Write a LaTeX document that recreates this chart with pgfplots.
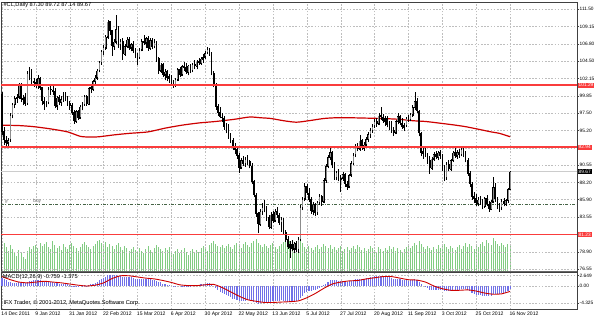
\documentclass[border=0pt]{standalone}
\usepackage{fontspec}
\setmainfont{Liberation Sans}
\usepackage{pgfplots}
\usepackage{pgfplotstable}
\pgfplotsset{compat=1.18}

\definecolor{volgreen}{RGB}{130,204,130}
\definecolor{macdblue}{RGB}{112,112,232}
\definecolor{maRed}{RGB}{205,0,0}
\definecolor{levRed}{RGB}{250,60,60}
\definecolor{gridgray}{RGB}{190,190,190}
\definecolor{ddgreen}{RGB}{70,100,70}
\newcommand{\pricefont}{\fontsize{4.8}{5}\selectfont}
\newcommand{\datefont}{\fontsize{5.1}{6}\selectfont}
\newcommand{\infofont}{\fontsize{5.7}{6.5}\selectfont}
\pgfplotsset{nomark/.style={only marks, mark=*, mark size=0pt, mark options={draw=none, fill=none}}}

\pgfplotstableread{
i o h l c v m
0 100.0 100.3 94.6 95.0 33 2.1
1 95.0 95.6 93.3 93.9 28 1.8
2 93.9 94.5 92.8 93.5 24 1.4
3 93.5 94.2 92.9 93.9 20 1.0
4 93.9 97.6 93.7 97.2 26 0.9
5 97.2 98.9 96.8 98.7 22 0.8
6 98.7 99.8 98.2 99.5 18 0.8
7 99.5 100.1 98.9 99.7 15 0.8
8 99.7 101.5 99.4 101.3 21 0.9
9 101.3 101.6 99.0 99.4 19 0.8
10 99.4 100.0 98.6 99.6 14 0.8
11 99.6 100.2 98.5 98.8 12 0.7
12 98.8 103.2 98.7 102.9 20 1.0
13 102.9 103.7 101.9 103.2 24 1.3
14 103.2 103.4 101.3 101.8 22 1.3
15 101.8 102.3 101.0 101.6 25 1.4
16 101.6 102.1 100.9 101.3 26 1.4
17 101.3 102.6 100.8 102.2 23 1.5
18 102.2 102.4 100.6 100.9 28 1.4
19 100.9 101.0 98.6 99.1 25 1.2
20 99.1 99.7 98.0 98.7 27 1.0
21 98.7 99.2 98.3 98.9 29 0.9
22 98.9 101.0 98.7 100.7 24 1.0
23 100.7 101.4 100.0 100.6 22 1.0
24 100.6 101.3 99.9 100.4 30 0.9
25 100.4 100.9 98.2 98.5 26 0.7
26 98.5 99.8 98.0 99.6 23 0.7
27 99.6 100.0 98.6 99.0 25 0.6
28 99.0 99.8 98.5 99.4 21 0.6
29 99.4 100.3 99.0 99.7 27 0.6
30 99.7 100.4 99.1 99.6 24 0.5
31 99.6 99.8 98.5 98.8 22 0.4
32 98.8 99.2 98.0 98.5 26 0.3
33 98.5 98.9 97.3 97.6 28 0.1
34 97.6 97.9 96.1 96.4 25 -0.1
35 96.4 98.0 96.2 97.8 23 -0.1
36 97.8 98.0 96.6 96.9 20 -0.1
37 96.9 98.6 96.8 98.4 24 0.0
38 98.4 99.0 97.9 98.7 27 0.1
39 98.7 100.0 98.5 99.8 29 0.2
40 99.8 100.0 98.5 98.7 26 0.1
41 98.7 101.0 98.6 100.9 24 0.3
42 100.9 101.2 100.2 100.7 22 0.4
43 100.7 102.0 100.5 101.8 25 0.6
44 101.8 102.6 101.4 102.3 27 0.8
45 102.3 103.4 102.0 103.2 30 1.1
46 103.2 104.5 103.0 104.3 31 1.4
47 104.3 106.0 104.0 105.8 28 1.8
48 105.8 106.6 105.3 106.3 26 2.1
49 106.3 108.0 106.0 107.8 29 2.4
50 107.8 110.0 107.5 109.8 24 2.8
51 109.8 109.9 108.0 108.6 27 2.9
52 108.6 108.7 105.2 106.5 25 2.7
53 106.5 107.5 106.0 107.1 22 2.7
54 107.1 110.7 106.8 108.8 26 2.8
55 108.8 109.2 106.3 106.7 28 2.6
56 106.7 107.5 106.0 107.2 24 2.6
57 107.2 107.6 104.7 105.4 21 2.4
58 105.4 106.8 105.2 106.5 25 2.4
59 106.5 107.8 106.2 107.4 23 2.4
60 107.4 107.7 106.0 106.3 20 2.3
61 106.3 107.0 105.8 106.8 22 2.2
62 106.8 107.2 105.6 105.9 24 2.1
63 105.9 106.3 104.9 105.2 21 1.9
64 105.2 105.6 104.0 105.0 19 1.8
65 105.0 106.2 104.8 106.0 23 1.8
66 106.0 107.5 105.8 107.2 20 1.9
67 107.2 108.0 106.7 107.0 18 1.8
68 107.0 107.8 106.3 107.6 22 1.8
69 107.6 107.9 105.9 106.2 25 1.7
70 106.2 107.6 106.0 107.3 21 1.7
71 107.3 107.6 106.1 106.4 19 1.6
72 106.4 107.5 106.2 107.0 23 1.6
73 107.0 107.2 104.4 104.8 26 1.3
74 104.8 105.0 102.8 103.2 24 1.0
75 103.2 104.3 102.9 104.0 22 0.9
76 104.0 104.2 102.4 102.7 20 0.6
77 102.7 103.4 101.9 103.1 23 0.5
78 103.1 103.3 101.8 102.2 21 0.3
79 102.2 102.8 101.6 102.5 24 0.2
80 102.5 102.6 101.2 101.5 19 0.0
81 101.5 101.9 100.9 101.3 17 -0.1
82 101.3 102.3 101.0 102.0 20 -0.1
83 102.0 103.6 101.8 103.4 22 0.0
84 103.4 103.7 102.4 102.7 18 0.0
85 102.7 104.0 102.5 103.8 21 0.1
86 103.8 104.4 103.2 103.6 23 0.1
87 103.6 104.2 102.8 103.0 19 0.1
88 103.0 104.0 102.6 103.9 16 0.1
89 103.9 104.1 102.9 103.2 20 0.1
90 103.2 104.3 103.0 104.1 22 0.2
91 104.1 104.6 103.5 103.8 18 0.2
92 103.8 104.6 103.4 104.4 21 0.3
93 104.4 104.9 104.0 104.2 19 0.3
94 104.2 105.0 104.0 104.8 23 0.4
95 104.8 105.4 104.3 105.1 25 0.5
96 105.1 105.9 104.8 105.6 22 0.6
97 105.6 106.4 105.4 106.1 20 0.7
98 106.1 106.3 105.2 105.5 26 0.7
99 105.5 105.7 102.6 102.9 28 0.4
100 102.9 103.2 101.0 101.4 30 0.0
101 101.4 101.6 98.0 98.4 27 -0.6
102 98.4 98.8 97.2 97.6 25 -1.1
103 97.6 98.3 96.8 97.0 24 -1.5
104 97.0 97.6 96.3 96.8 26 -1.8
105 96.8 97.1 95.3 95.6 23 -2.1
106 95.6 96.2 94.8 95.8 25 -2.3
107 95.8 96.0 94.1 94.4 27 -2.6
108 94.4 94.9 93.5 93.8 24 -2.9
109 93.8 94.2 92.6 92.9 22 -3.2
110 92.9 93.5 92.0 92.6 26 -3.4
111 92.6 93.0 91.4 91.8 28 -3.6
112 91.8 92.2 89.5 90.2 25 -3.8
113 90.2 91.5 90.0 91.2 23 -3.8
114 91.2 91.8 90.4 90.7 27 -3.8
115 90.7 91.6 90.3 91.3 29 -3.8
116 91.3 91.9 90.6 91.0 26 -3.7
117 91.0 91.2 90.1 90.4 24 -3.7
118 90.4 90.8 88.0 88.3 28 -3.8
119 88.3 88.6 86.2 86.5 30 -4.0
120 86.5 86.8 83.6 84.0 32 -4.3
121 84.0 84.3 81.4 82.6 28 -4.5
122 82.6 84.6 82.4 84.3 26 -4.4
123 84.3 85.4 83.9 84.9 24 -4.2
124 84.9 85.9 84.2 84.6 27 -4.1
125 84.6 85.0 83.1 83.5 25 -4.1
126 83.5 83.8 81.9 82.2 23 -4.1
127 82.2 84.2 82.0 83.9 26 -4.0
128 83.9 84.4 82.8 83.1 28 -3.9
129 83.1 84.6 82.9 84.3 24 -3.8
130 84.3 84.9 83.5 83.8 22 -3.8
131 83.8 84.1 82.5 82.8 25 -3.8
132 82.8 83.6 81.6 83.3 27 -3.7
133 83.3 83.5 81.2 81.5 29 -3.8
134 81.5 81.8 80.2 80.5 31 -3.9
135 80.5 81.0 79.3 79.6 28 -4.0
136 79.6 80.4 78.1 79.9 30 -4.1
137 79.9 80.5 79.0 79.3 27 -4.0
138 79.3 80.2 78.8 80.0 25 -3.9
139 80.0 80.3 78.9 79.2 29 -3.8
140 79.2 80.9 78.8 80.6 26 -3.6
141 80.6 85.2 80.3 84.9 33 -3.0
142 84.9 86.3 84.5 86.0 28 -2.5
143 86.0 88.1 85.7 87.7 24 -1.9
144 87.7 88.0 86.5 86.8 22 -1.6
145 86.8 87.4 85.6 85.9 25 -1.4
146 85.9 86.3 84.0 84.4 23 -1.3
147 84.4 85.6 83.8 85.2 21 -1.1
148 85.2 85.5 83.7 84.1 24 -1.0
149 84.1 85.7 83.9 85.5 26 -0.7
150 85.5 86.6 85.2 86.3 22 -0.4
151 86.3 86.5 85.1 85.6 24 -0.2
152 85.6 88.8 85.4 88.5 27 0.2
153 88.5 90.7 88.2 90.4 25 0.6
154 90.4 91.9 90.1 91.6 23 1.0
155 91.6 92.8 91.2 92.3 26 1.4
156 92.3 92.5 90.2 90.6 22 1.5
157 90.6 90.9 88.6 88.9 24 1.4
158 88.9 89.8 88.5 89.5 21 1.4
159 89.5 90.0 88.4 88.7 23 1.3
160 88.7 89.2 86.9 88.8 25 1.3
161 88.8 89.6 88.4 89.3 20 1.3
162 89.3 89.5 87.6 88.0 22 1.2
163 88.0 88.4 87.2 87.6 24 1.1
164 87.6 89.4 87.4 89.2 21 1.2
165 89.2 91.1 89.0 90.8 23 1.3
166 90.8 92.2 90.6 91.9 25 1.5
167 91.9 93.4 91.6 93.0 22 1.7
168 93.0 93.5 92.4 92.7 26 1.8
169 92.7 94.6 92.5 93.8 24 1.9
170 93.8 94.0 92.6 92.9 21 1.9
171 92.9 93.6 92.5 93.3 23 1.9
172 93.3 94.3 93.0 94.0 20 2.0
173 94.0 95.0 93.7 94.7 22 2.1
174 94.7 95.5 94.2 95.2 25 2.2
175 95.2 96.0 94.9 95.8 23 2.3
176 95.8 96.7 95.5 96.4 21 2.5
177 96.4 96.8 95.7 96.1 19 2.5
178 96.1 97.6 95.9 97.2 24 2.6
179 97.2 98.3 96.6 97.0 22 2.6
180 97.0 97.4 96.2 96.5 20 2.5
181 96.5 97.1 95.8 96.8 23 2.5
182 96.8 97.2 95.6 95.9 21 2.3
183 95.9 96.5 95.3 96.2 25 2.2
184 96.2 96.4 94.9 95.2 22 2.0
185 95.2 95.6 94.5 94.9 24 1.8
186 94.9 96.6 94.7 96.4 20 1.8
187 96.4 97.5 96.0 97.1 23 1.8
188 97.1 97.3 95.9 96.2 21 1.7
189 96.2 96.9 95.4 95.6 19 1.5
190 95.6 96.2 95.1 95.9 22 1.4
191 95.9 97.0 95.7 96.8 24 1.4
192 96.8 97.3 96.3 96.6 26 1.3
193 96.6 97.6 96.4 97.3 23 1.4
194 97.3 98.6 97.0 98.3 25 1.5
195 98.3 100.4 97.9 99.1 28 1.7
196 99.1 99.5 97.5 97.8 26 1.5
197 97.8 98.0 94.4 94.8 30 1.0
198 94.8 95.0 91.7 92.2 27 0.4
199 92.2 92.9 91.4 92.5 24 0.0
200 92.5 92.9 91.6 91.9 22 -0.3
201 91.9 92.1 90.7 91.1 25 -0.6
202 91.1 91.8 89.4 90.1 23 -0.9
203 90.1 91.6 89.9 91.4 21 -0.9
204 91.4 92.3 91.1 92.0 24 -0.9
205 92.0 92.5 91.3 91.6 22 -0.9
206 91.6 92.4 91.2 92.2 26 -0.9
207 92.2 92.6 91.4 91.7 23 -0.9
208 91.7 92.0 89.8 90.2 25 -1.0
209 90.2 90.5 88.4 88.8 27 -1.3
210 88.8 90.9 88.6 90.6 24 -1.3
211 90.6 91.2 89.7 90.0 22 -1.3
212 90.0 91.4 89.8 91.2 25 -1.2
213 91.2 92.5 91.0 92.2 23 -1.1
214 92.2 92.8 91.5 91.8 21 -1.0
215 91.8 92.6 91.4 92.3 24 -0.9
216 92.3 92.7 91.5 91.9 26 -0.9
217 91.9 93.0 91.7 92.6 22 -0.8
218 92.6 92.9 91.6 92.0 25 -0.8
219 92.0 92.4 90.9 91.2 28 -0.8
220 91.2 91.5 89.1 89.4 24 -1.0
221 89.4 89.8 87.6 88.0 27 -1.3
222 88.0 88.3 85.9 86.3 25 -1.7
223 86.3 86.9 85.5 86.0 22 -2.0
224 86.0 86.6 85.1 85.4 26 -2.2
225 85.4 86.2 85.0 85.9 24 -2.3
226 85.9 86.4 85.2 85.6 27 -2.4
227 85.6 86.0 84.6 85.0 29 -2.5
228 85.0 86.3 84.8 86.1 25 -2.5
229 86.1 86.5 85.0 85.3 31 -2.5
230 85.3 85.7 84.3 84.6 28 -2.6
231 84.6 85.9 84.5 85.6 26 -2.5
232 85.6 88.9 85.4 87.6 33 -2.1
233 87.6 88.1 85.6 86.0 30 -2.0
234 86.0 86.3 84.6 85.0 27 -2.0
235 85.0 85.5 84.3 84.8 25 -2.0
236 84.8 86.0 84.5 85.7 28 -1.9
237 85.7 86.1 85.0 85.3 26 -1.8
238 85.3 86.0 85.1 85.8 24 -1.7
239 85.8 87.5 85.5 87.3 27 -1.4
240 87.30 89.72 87.14 89.67 25 -0.759
}\cl

\begin{document}
\begin{tikzpicture}
\useasboundingbox (0,0) rectangle (597bp,316bp);

% volumes (own scale, behind the prices)
\begin{axis}[at={(1bp,44.5bp)}, anchor=south west, scale only axis,
  width=576bp, height=269.5bp, xmin=-0.47, xmax=271.6, ymin=0, ymax=269.5,
  axis lines=none, ytick=\empty, xtick=\empty]
\addplot[ycomb, volgreen, line width=1bp, mark=none] table[x=i, y=v] {\cl};
\end{axis}

% main price panel
\begin{axis}[at={(1bp,44.5bp)}, anchor=south west, scale only axis,
  width=576bp, height=269.5bp, xmin=-0.47, xmax=271.6, ymin=76.255, ymax=112.44,
  axis line style={black!75, line width=0.6bp},
  xtick={0,16,...,240}, xticklabels={}, xtick style={draw=none},
  ytick={111.50,109.15,106.80,104.50,102.15,99.85,97.50,95.20,92.85,90.55,88.20,85.90,83.55,81.25,78.90,76.55},
  yticklabels={111.50,109.15,106.80,104.50,102.15,99.85,97.50,95.20,,90.55,88.20,85.90,83.55,,78.90,76.55},
  ytick pos=right, yticklabel pos=right, tick align=outside,
  major tick length=2bp, ytick style={black!75, line width=0.4bp},
  yticklabel style={anchor=west, inner sep=0.5bp, font=\pricefont},
  xmajorgrids, ymajorgrids,
  grid style={gridgray, dash pattern=on 1.6bp off 1.6bp, line width=0.4bp},
]
\addplot[black!20, line width=0.5bp, mark=none] coordinates {(-0.47,89.67) (271.6,89.67)};
\addplot[ddgreen, line width=0.5bp, mark=none, dash pattern=on 3bp off 1.5bp on 0.8bp off 1.5bp] coordinates {(-0.47,85.3) (271.6,85.3)};
% moving average
\addplot[maRed, line width=1.2bp, mark=none, smooth, tension=0.4] coordinates {
(0,95.9) (8,95.85) (15,95.7) (23,95.4) (31,95.0) (37,94.4) (42,94.3) (46,94.35)
(53,94.6) (60,94.8) (69,95.0) (77,95.5) (85,95.9) (93,96.2) (101,96.4) (110,96.7)
(117,97.0) (122,96.9) (127,96.8) (133,96.5) (139,96.3) (145,96.5) (152,96.8)
(158,96.9) (164,96.9) (172,96.85) (179,96.8) (187,96.7) (194,96.5) (200,96.4)
(206,96.2) (213,95.95) (219,95.7) (226,95.3) (231,95.0) (235,94.8) (240,94.35)};
% candle wicks
\addplot[nomark, error bars/.cd, y dir=both, y explicit,
  error mark=none, error bar style={draw=black, line width=0.5bp}]
  table[x=i, y=l, y error plus expr={\thisrow{h}-\thisrow{l}}, y error minus expr={0}] {\cl};
% candle bodies
\addplot[nomark, error bars/.cd, y dir=both, y explicit,
  error mark=none, error bar style={draw=black, line width=1.7bp}]
  table[x=i, y=o, y error plus expr={max(\thisrow{c}-\thisrow{o},0.06)},
        y error minus expr={max(\thisrow{o}-\thisrow{c},0.06)}] {\cl};
% lighter inside of the bull bodies
\addplot[nomark, error bars/.cd, y dir=both, y explicit,
  error mark=none, error bar style={draw=black!45, line width=0.8bp}]
  table[x=i, y expr={\thisrow{c}>\thisrow{o}+0.3 ? \thisrow{o}+0.08 : nan},
        y error plus expr={\thisrow{c}-\thisrow{o}-0.16}, y error minus expr={0}] {\cl};
% level lines (drawn over the candles)
\addplot[color=levRed, line width=1.5bp, mark=none] coordinates {(-0.47,101.29) (271.6,101.29)};
\addplot[color=levRed, line width=1.5bp, mark=none] coordinates {(-0.47,92.94) (271.6,92.94)};
\addplot[color=levRed, line width=1.5bp, mark=none] coordinates {(-0.47,81.23) (271.6,81.23)};
\node[anchor=west, inner sep=0, font=\infofont] at (rel axis cs:0.004,0.988) {\#CL,Daily  87.30 89.72 87.14 89.67};
\node[anchor=south west, inner sep=0.3bp, font=\pricefont, text=black!60] at (axis cs:14.6,85.35) {buy};
\node[anchor=south west, inner sep=0.3bp, font=\pricefont, text=black!60] at (axis cs:1.2,85.35) {\#};
\coordinate (r1) at (axis cs:271.6,101.29);
\coordinate (r2) at (axis cs:271.6,92.94);
\coordinate (r3) at (axis cs:271.6,81.23);
\coordinate (r4) at (axis cs:271.6,89.67);
\end{axis}

% MACD panel
\begin{axis}[at={(1bp,6.5bp)}, anchor=south west, scale only axis,
  width=576bp, height=37bp, xmin=-0.47, xmax=271.6, ymin=-6.0, ymax=3.44,
  axis line style={black!75, line width=0.6bp},
  xtick={0,16,...,240},
  xticklabels={14 Dec 2011,9 Jan 2012,31 Jan 2012,22 Feb 2012,15 Mar 2012,6 Apr 2012,30 Apr 2012,22 May 2012,13 Jun 2012,5 Jul 2012,27 Jul 2012,20 Aug 2012,11 Sep 2012,3 Oct 2012,25 Oct 2012,16 Nov 2012},
  xticklabel style={anchor=north west, inner sep=0.3bp, xshift=-1bp, yshift=0.5bp, font=\datefont},
  xtick style={draw=none},
  ytick={2.649,0,-4.325}, yticklabels={2.649,0.00,-4.325},
  ytick pos=right, yticklabel pos=right, tick align=outside,
  major tick length=2bp, ytick style={black!75, line width=0.4bp},
  yticklabel style={anchor=west, inner sep=0.5bp, font=\pricefont},
  xmajorgrids, ymajorgrids,
  grid style={gridgray, dash pattern=on 1.6bp off 1.6bp, line width=0.4bp},
]
\addplot[ycomb, macdblue, line width=1.1bp, mark=none] table[x=i, y=m] {\cl};
\addplot[maRed, line width=0.9bp, mark=none, smooth, tension=0.4] coordinates {
(0,2.4) (4,1.6) (8,1.0) (12,0.8) (16,1.0) (20,1.2) (24,1.0) (28,0.8) (32,0.5)
(36,0.2) (40,0.0) (44,0.2) (48,0.8) (52,1.9) (56,2.6) (60,2.6) (64,2.3) (68,2.0)
(72,1.8) (76,1.4) (80,0.9) (84,0.3) (88,0.1) (92,0.1) (96,0.3) (100,0.4)
(104,-0.4) (108,-1.5) (112,-2.6) (116,-3.5) (120,-3.9) (124,-4.2) (128,-4.2)
(132,-4.1) (136,-4.0) (140,-3.8) (144,-3.0) (148,-1.9) (152,-0.6) (156,0.5)
(160,1.0) (164,1.3) (168,1.4) (172,1.8) (176,2.1) (180,2.4) (184,2.4) (188,2.0)
(192,1.6) (196,1.5) (200,1.0) (204,0.0) (208,-0.7) (212,-1.1) (216,-1.1)
(220,-1.0) (224,-1.3) (228,-1.8) (232,-2.1) (236,-2.0) (240,-1.375)};
\node[anchor=west, inner sep=0, font=\infofont] at (rel axis cs:0.003,0.87) {MACD(12,26,9) -0.759 -1.375};
\node[anchor=west, inner sep=0, font=\infofont] at (rel axis cs:0.004,0.18) {IFX Trader, © 2001-2012, MetaQuotes Software Corp.};
\end{axis}

% separator between the panels
\draw[black!60, line width=1.3bp] (1bp,44.2bp) -- (577bp,44.2bp);

% boxed price labels
\node[fill=levRed, text=white, anchor=west, inner xsep=0.9bp, inner ysep=0.8bp, font=\pricefont] at ([xshift=0.6bp]r1) {101.29};
\node[fill=levRed, text=white, anchor=west, inner xsep=0.9bp, inner ysep=0.8bp, font=\pricefont] at ([xshift=0.6bp]r2) {92.94};
\node[fill=levRed, text=white, anchor=west, inner xsep=0.9bp, inner ysep=0.8bp, font=\pricefont] at ([xshift=0.6bp]r3) {81.23};
\node[fill=black, text=white, anchor=west, inner xsep=0.9bp, inner ysep=0.8bp, font=\pricefont] at ([xshift=0.6bp]r4) {89.67};
\end{tikzpicture}
\end{document}
